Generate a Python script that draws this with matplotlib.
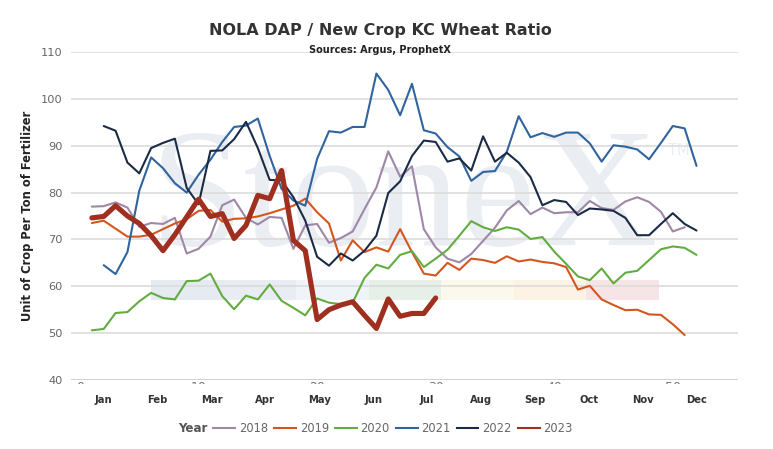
"""NOLA DAP / New Crop KC Wheat ratio, weekly, 2018-2023 (StoneX style)."""

import numpy as np
import matplotlib

matplotlib.use("Agg")
import matplotlib.pyplot as plt
from matplotlib.lines import Line2D
from matplotlib.patches import Rectangle
from matplotlib.transforms import Bbox, TransformedBbox, blended_transform_factory

# ------------------------------------------------------------------ data
years = ["2018", "2019", "2020", "2021", "2022", "2023"]
first_week = [1, 1, 1, 2, 2, 1]

y2018 = [77.0, 77.1, 77.9, 76.8, 72.7, 73.5, 73.3, 74.6, 67.0, 68.0,
         70.6, 77.3, 78.5, 74.6, 73.2, 74.8, 74.6, 68.0, 73.0, 73.3,
         69.3, 70.3, 71.7, 76.5, 81.1, 88.8, 83.4, 85.6, 72.2, 68.3,
         65.9, 65.1, 66.9, 69.7, 72.5, 76.2, 78.2, 75.4, 76.8, 75.6,
         75.8, 75.8, 78.2, 76.7, 76.3, 78.1, 79.0, 78.0, 75.9, 71.7, 72.6]
y2019 = [73.5, 74.0, 72.3, 70.6, 70.6, 71.0, 72.2, 73.4, 74.3, 76.1,
         76.3, 73.8, 74.4, 74.5, 74.9, 75.6, 76.4, 77.2, 78.7, 75.8,
         73.4, 65.5, 69.8, 67.3, 68.3, 67.4, 72.2, 67.3, 62.7, 62.3,
         65.0, 63.5, 65.9, 65.6, 65.0, 66.4, 65.3, 65.7, 65.2, 64.9,
         64.1, 59.3, 60.1, 57.2, 56.0, 54.9, 55.0, 54.0, 53.9, 51.9, 49.6]
y2020 = [50.6, 50.9, 54.3, 54.5, 56.8, 58.6, 57.5, 57.2, 61.1, 61.2,
         62.7, 57.9, 55.1, 58.0, 57.2, 60.4, 56.9, 55.4, 53.8, 57.4,
         56.5, 56.2, 56.5, 61.8, 64.6, 63.8, 66.7, 67.5, 64.1, 65.9,
         67.8, 70.8, 73.9, 72.6, 71.8, 72.6, 72.1, 70.1, 70.5, 67.4,
         64.8, 62.1, 61.3, 63.8, 60.6, 62.9, 63.3, 65.6, 67.9, 68.5,
         68.2, 66.7]
y2021 = [64.5, 62.6, 67.3, 80.4, 87.5, 85.2, 82.0, 80.0, 83.8, 87.0,
         90.8, 94.0, 94.3, 95.8, 87.8, 80.8, 78.3, 77.2, 87.2, 93.1,
         92.8, 94.0, 94.0, 105.4, 101.9, 96.5, 103.2, 93.3, 92.6, 89.7,
         87.7, 82.5, 84.4, 84.6, 88.7, 96.3, 91.8, 92.7, 91.9, 92.8,
         92.8, 90.5, 86.6, 90.1, 89.8, 89.2, 87.1, 90.6, 94.2, 93.7, 85.7]
y2022 = [94.2, 93.2, 86.4, 84.1, 89.5, 90.6, 91.5, 81.0, 77.5, 88.9,
         89.0, 91.4, 95.1, 89.5, 82.7, 82.6, 79.0, 74.0, 66.3, 64.4,
         67.0, 65.5, 67.6, 70.8, 79.9, 82.4, 87.8, 91.1, 90.8, 86.6,
         87.3, 84.7, 92.0, 86.6, 88.5, 86.4, 83.3, 77.3, 78.4, 78.0,
         75.2, 76.6, 76.4, 76.1, 74.6, 70.9, 70.9, 73.3, 75.6, 73.3, 71.9]
y2023 = [74.6, 74.9, 77.2, 75.0, 73.4, 70.8, 67.6, 71.0, 74.8, 78.6,
         74.9, 75.5, 70.2, 73.0, 79.4, 78.7, 84.7, 69.8, 67.6, 52.9,
         55.0, 56.0, 56.7, 53.8, 51.0, 57.3, 53.6, 54.2, 54.2, 57.5]

series = [y2018, y2019, y2020, y2021, y2022, y2023]
colors = ["#9E87A7", "#D4561F", "#62AC40", "#30649D", "#1B2B45", "#9F2F1F"]
widths = [1.5, 1.5, 1.5, 1.5, 1.5, 3.7]

months = ["Jan", "Feb", "Mar", "Apr", "May", "Jun",
          "Jul", "Aug", "Sep", "Oct", "Nov", "Dec"]
week_ticks = [0, 10, 20, 30, 40, 50]
y_ticks = [40, 50, 60, 70, 80, 90, 100, 110]

# ------------------------------------------------------------------ figure
W, H = 773, 449
fig = plt.figure(figsize=(W / 100, H / 100), dpi=100)
ax = fig.add_axes([71 / W, 1 - 380 / H, (738 - 71) / W, (380 - 52) / H])
ax.set_xlim(-0.76, 55.5)
ax.set_ylim(40, 110)
for s in ax.spines.values():
    s.set_visible(False)

# gridlines
for v in y_ticks:
    ax.axhline(v, color="#C8C8C8" if v == 40 else "#DCDCDC", lw=1.2, zorder=1)

# watermark
wm = "#EAEDF2"
ax.text(5.9, 68.8, "StoneX", family="Liberation Serif", fontsize=122,
        color=wm, ha="left", va="baseline", zorder=0)
ax.text(49.6, 90.6, "TM", family="DejaVu Sans", fontsize=10.5,
        color=wm, ha="left", va="top", zorder=0)
band_colors = ["#E6EAF1", "#E9EDF3", "#EFF4F8", "#E6EFE8",
               "#FAF9EB", "#FDF3E5", "#F7E4E6"]
for i, c in enumerate(band_colors):
    ax.add_patch(Rectangle((6.0 + i * 6.12, 57.1), 6.12, 4.2,
                           facecolor=c, edgecolor="none", zorder=0.5))

# series
handles = []
for lab, start, vals, c, lw in zip(years, first_week, series, colors, widths):
    wk = np.arange(start, start + len(vals))
    ax.plot(wk, vals, color=c, lw=lw, zorder=3, solid_joinstyle="round",
            solid_capstyle="round")
    handles.append(Line2D([], [], color=c, lw=1.5))

# y axis
ax.set_yticks(y_ticks)
ax.tick_params(axis="y", length=0, pad=6, labelsize=8.2, labelcolor="#666666")

# clipped week numbers peeking below the axis line
ax.set_xticks(week_ticks)
ax.set_xticklabels([str(t) for t in week_ticks])
ax.tick_params(axis="x", length=0, pad=1.0, labelsize=9, labelcolor="#777777")
clip = TransformedBbox(Bbox([[-0.2, -0.011], [1.2, -0.003]]), ax.transAxes)
for lbl in ax.get_xticklabels():
    lbl.set_clip_box(clip)
    lbl.set_clip_on(True)

# month labels
mt = blended_transform_factory(ax.transData, fig.transFigure)
for m, pos in zip(months, np.linspace(2, 52, len(months))):
    ax.text(pos, 1 - 400 / H, m, transform=mt, ha="center", va="center",
            fontsize=7.2, fontweight="bold", color="#333333")

# titles
fig.text(380 / W, 1 - 30 / H, "NOLA DAP / New Crop KC Wheat Ratio",
         ha="center", va="center", fontsize=11.5, fontweight="bold",
         color="#333333")
fig.text(380 / W, 1 - 50 / H, "Sources: Argus, ProphetX", ha="center",
         va="center", fontsize=7, fontweight="bold", color="#222222")
fig.text(28 / W, 1 - 216 / H, "Unit of Crop Per Ton of Fertilizer",
         rotation=90, ha="center", va="center", fontsize=8.3,
         fontweight="bold", color="#222222")

# legend
fig.text(178 / W, 1 - 429 / H, "Year", ha="left", va="center",
         fontsize=8.6, fontweight="bold", color="#555555")
fig.legend(handles, years, loc="center left",
           bbox_to_anchor=(213 / W, 1 - 429 / H), ncol=6, frameon=False,
           fontsize=8.3, labelcolor="#666666", handlelength=1.9,
           handletextpad=0.35, columnspacing=0.5, borderpad=0,
           borderaxespad=0)

fig.savefig("out.png", dpi=100)
